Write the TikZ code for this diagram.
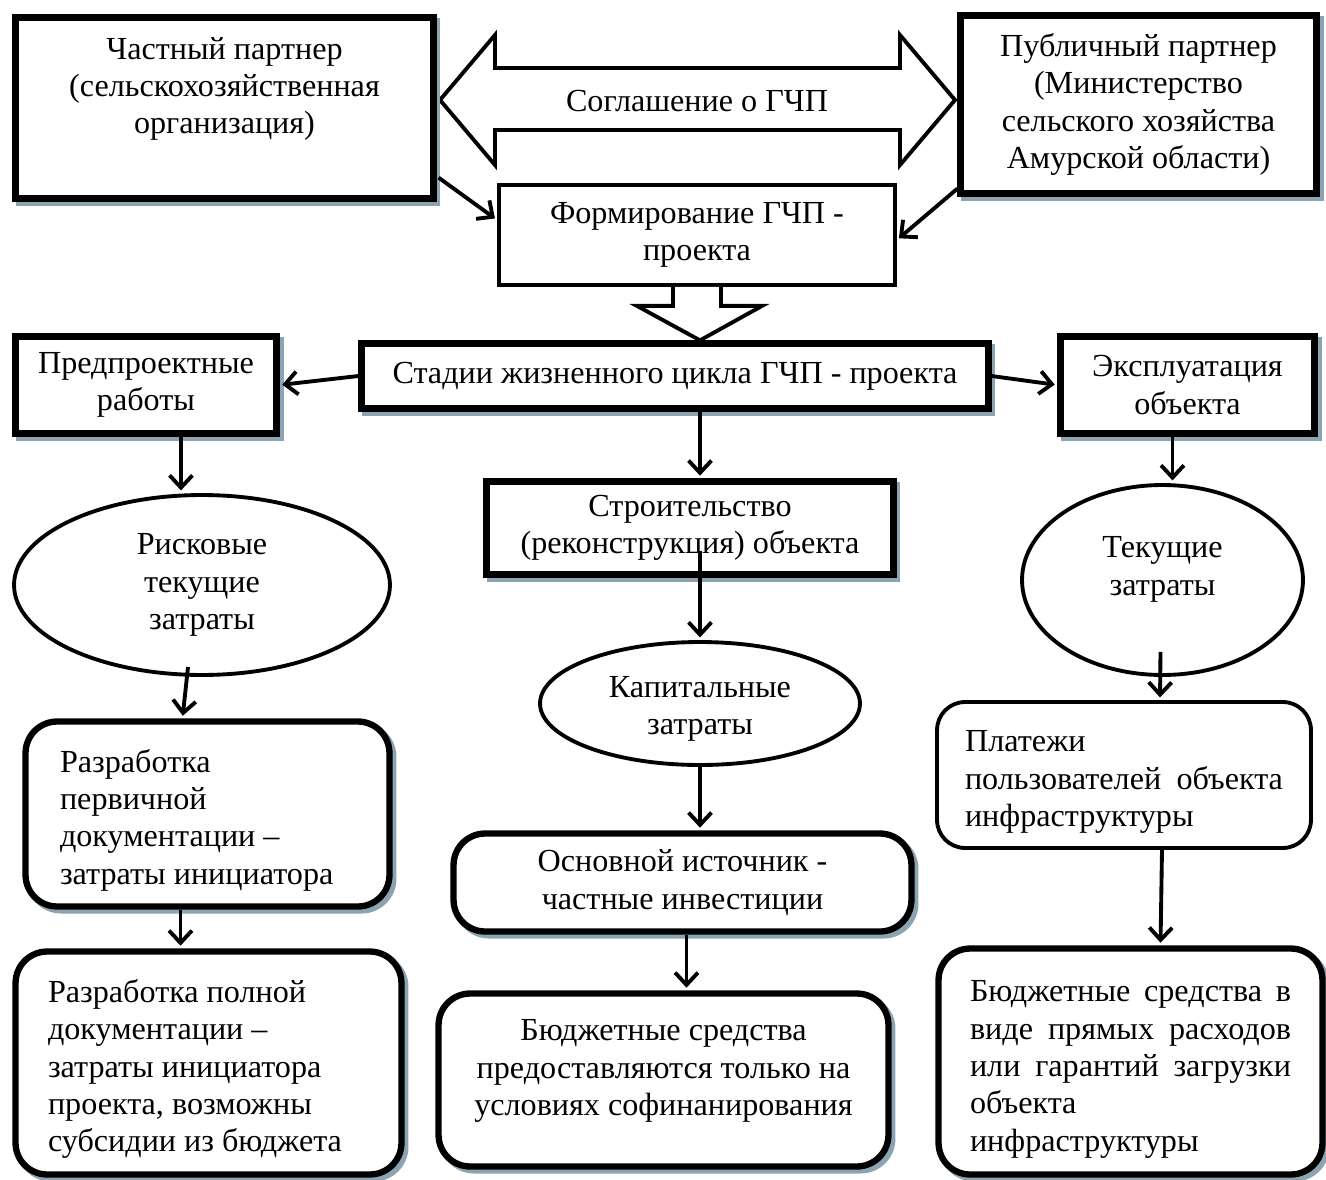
\documentclass[tikz,border=0pt]{standalone}
\usepackage{fontspec}
\setmainfont{Liberation Serif}
\usetikzlibrary{arrows.meta,positioning,shapes.geometric,calc}
\definecolor{shadowblue}{RGB}{140,164,178}
\tikzset{
  >=Straight Barb,
  line/.style       = {-{Straight Barb[length=7pt,width=13pt]}, line width=2.2pt, shorten >=1.5pt},
  frame/.style      = {rectangle, draw, line width=3.6pt, fill=white, align=center, inner sep=2pt,
                       preaction={draw=shadowblue, fill=shadowblue, transform canvas={xshift=2.2pt, yshift=-2.2pt}}},
  thinframe/.style  = {rectangle, draw, line width=2.2pt, fill=white, align=center},
  roundframe/.style = {frame, rounded corners=18pt},
  oval/.style       = {ellipse, draw, line width=2.2pt, fill=white, align=center, inner sep=0pt},
  blockarrow/.style = {draw, line width=2.2pt, fill=white}
}
\newcommand{\vpad}[1]{\rule[-#1]{0pt}{0pt}}
\newcommand{\vpadtop}[1]{\rule{0pt}{#1}}

\begin{document}
\begin{tikzpicture}[x=0.02cm, y=-0.02cm, every node/.style={font=\fontsize{18.3}{21.3}\selectfont}]
\useasboundingbox (0,0) rectangle (1326,1180);

% Agreement
\draw[blockarrow] (440,100) -- (495,35) -- (495,68) -- (900,68) -- (900,35) -- (955,100) -- (900,165) -- (900,130) -- (495,130) -- (495,165) -- cycle;
\node (agree) at (697,101) {Соглашение о ГЧП};

% Partners
\node[frame, minimum width=8.36cm, minimum height=3.62cm] (priv) at (224.5,108) {Частный партнер\\(сельскохозяйственная\\организация)\vpad{0.9cm}};
\node[frame, minimum width=7.12cm, minimum height=3.56cm] (pub) at (1138.5,104.5) {Публичный партнер\\(Министерство\\сельского хозяйства\\Амурской области)};
\node[thinframe, minimum width=7.92cm, minimum height=2.0cm] (form) at (697,235) {Формирование ГЧП -\\проекта};

% Stages
\node[frame, minimum width=12.54cm, minimum height=1.3cm] (stages) at (675,376) {Стадии жизненного цикла ГЧП - проекта};
\node[frame, minimum width=5.22cm, minimum height=1.94cm] (pre) at (146,385) {Предпроектные\\работы};
\node[frame, minimum width=5.08cm, minimum height=1.94cm] (expl) at (1187.5,385) {Эксплуатация\\объекта};
\node[frame, minimum width=8.14cm, minimum height=1.86cm] (constr) at (690,528) {Строительство\\(реконструкция) объекта};

% Costs
\node[oval, minimum width=7.52cm, minimum height=3.6cm] (risk) at (202,585) {Рисковые\\текущие\\затраты};
\node[oval, minimum width=6.4cm, minimum height=2.46cm] (cap) at (700,703.5) {\vpadtop{18pt}Капитальные\\затраты};
\node[oval, minimum width=5.62cm, minimum height=3.8cm] (cur) at (1162.5,580) {Текущие\\затраты\vpad{0.56cm}};

% Sources
\node[roundframe, align=flush left, text width=5.9cm, minimum width=7.28cm, minimum height=3.7cm] (dev1) at (207.5,814) {\vpadtop{20pt}Разработка\\первичной\\документации –\\затраты инициатора};
\node[roundframe, align=flush left, text width=6.42cm, minimum width=7.72cm, minimum height=4.46cm] (dev2) at (208.5,1063) {\vpadtop{20pt}Разработка полной\\документации –\\затраты инициатора\\проекта, возможны\\субсидии из бюджета};
\node[roundframe, minimum width=9.16cm, minimum height=1.96cm] (base) at (682.5,882.5) {Основной источник -\\частные инвестиции};
\node[roundframe, minimum width=9.0cm, minimum height=3.46cm] (bud2) at (663.5,1080) {Бюджетные средства\\предоставляются только на\\условиях софинанирования\vpad{0.5cm}};
\node[thinframe, rounded corners=16pt, align=flush left, text width=6.36cm, minimum width=7.48cm, minimum height=2.92cm] (pay) at (1124,775) {\vpadtop{20pt}Платежи\\пользователей\hfill объекта\\инфраструктуры};
\node[roundframe, align=flush left, text width=6.42cm, minimum width=7.68cm, minimum height=4.52cm] (bud3) at (1130.5,1061.5) {\vpadtop{21pt}Бюджетные\hfill средства\hfill в\\виде\hfill прямых\hfill расходов\\или\hfill гарантий\hfill загрузки\\объекта\\инфраструктуры};

% Block arrow to stages
\draw[blockarrow] ($(form.south)+(-24,0)$) -- ++(0,19) -- ++(-36,0) -- ($(stages.north)+(25,0)$) -- ($(form.south)+(65,19)$) -- ++(-41,0) -- ++(0,-19);

% Connections
\draw[line] ($(priv.south east)+(2,-24)$) -- ($(form.west)+(0,-15)$);
\draw[line] ($(pub.south west)+(0,-8)$) -- ($(form.east)+(0,5)$);
\draw[line] (stages.west) -- (pre.east);
\draw[line] (stages.east) -- (expl.west);
\draw[line] ($(stages.south)+(25,0)$) -- ($(constr.north)+(10,0)$);
\draw[line] ($(constr.south)+(10,-27)$) -- (cap.north);
\draw[line] (cap.south) -- ($(base.north)+(17.5,0)$);
\draw[line] ($(base.south)+(4,0)$) -- ($(bud2.north)+(23,0)$);
\draw[line] ($(pre.south)+(35,0)$) -- ($(risk.north)+(-21,0)$);
\draw[line] ($(risk.south)+(-14,-10)$) -- ($(dev1.north)+(-25,0)$);
\draw[line] ($(dev1.south)+(-27,0)$) -- ($(dev2.north)+(-28,0)$);
\draw[line] ($(expl.south)+(-15,0)$) -- ($(cur.north)+(10,0)$);
\draw[line] ($(cur.south)+(-2,-25)$) -- ($(pay.north)+(36,0)$);
\draw[line] ($(pay.south)+(38,0)$) -- ($(bud3.north)+(30,0)$);

\end{tikzpicture}
\end{document}
